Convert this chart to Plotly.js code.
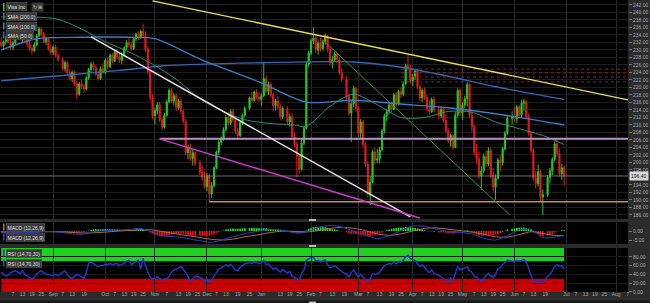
<!DOCTYPE html>
<html><head><meta charset="utf-8">
<script src="https://cdn.plot.ly/plotly-3.0.1.min.js"></script>
<style>html,body{margin:0;padding:0;background:#2b2b2b;}#c{width:650px;height:303px;}</style>
</head><body><div id="c"></div>
<script>
// ---------- DATA ----------
const HOLIDAYS = ['2021-09-06','2021-11-25','2021-12-24','2022-01-17','2022-02-21','2022-04-15','2022-05-30','2022-06-20'];
const START_DAY = '2021-08-02', END_DAY = '2022-06-30';

const open = [
232.0,231.2,232.2,233.0,232.0, 230.8,232.0,233.6,234.2,233.0, 233.5,232.8,231.6,230.4,229.8, 231.4,233.8,235.6,234.2,232.2,
233.0,230.2,229.4,230.8,228.5, 227.4,225.0,226.6,223.8, 222.4,224.0,221.0,218.2,221.0, 220.2,219.6,222.6,224.8,226.2,
225.4,223.6,222.4,225.0,224.0, 227.2,225.6,228.6,227.0,229.4, 228.2,227.2,228.8,230.6,232.0, 231.4,230.4,233.0,234.2,233.4,
235.0,233.8,230.2,224.2,217.4, 212.5,213.8,215.4,211.4,209.4, 212.6,216.2,219.2,216.4,217.8, 214.6,216.4,213.6,211.0,202.6,
203.8,201.0,202.6,199.8, 197.4,196.0,193.6,196.4,191.6, 193.8,198.6,202.8,205.4,206.2, 208.8,212.0,210.6,213.6,211.4,
208.4,207.2,210.6,212.6, 214.4,217.2,216.6,218.8,217.4, 216.8,217.8,222.4,219.0,220.8, 218.0,215.2,216.4,214.8,212.2,
214.4,210.8,212.2,206.8, 205.0,201.6,198.2,205.2,209.2, 226.2,229.2,232.4,233.2,230.0, 231.8,230.4,232.2,233.8,230.2,
226.6,227.4,229.0,227.4,224.0, 222.2,217.6,213.2,215.6, 219.8,214.4,207.8,210.8,204.8, 199.6,191.6,194.8,202.8,200.6,
201.0,203.4,208.4,212.4,213.6, 215.4,214.2,218.0,215.6,219.0, 218.2,221.0,225.8,225.2,221.8, 222.8,224.4,220.2,217.2,219.2,
217.4,214.2,213.6,216.8, 214.0,212.4,214.2,211.2,208.4, 205.8,207.2,204.0,212.6,219.2, 213.2,215.4,217.0,220.8,212.6,
209.6,202.6,201.0,196.4,197.8, 201.6,199.6,203.2,196.6,193.4, 195.8,200.6,200.0,203.6,207.8, 211.8,212.2,211.6,214.8,
212.6,215.8,216.2,212.2,207.8, 203.2,195.8,194.4,197.6,190.8, 191.4,196.0,197.8,200.8, 205.0,202.4,197.0,198.6];
const high = [
233.5,232.6,233.8,234.2,233.0, 232.5,234.0,234.8,235.0,234.0, 234.4,233.2,232.4,231.0,232.0, 234.2,236.2,236.0,234.8,233.6,
233.4,231.5,231.2,231.4,229.2, 228.0,227.2,227.0,225.0, 224.6,224.5,221.8,221.5,222.0, 221.0,223.0,225.2,226.8,227.0,
226.0,224.2,225.6,226.5,227.8, 228.0,229.0,229.2,230.0,230.2, 229.0,229.4,231.0,232.6,233.2, 232.0,233.4,234.6,235.0,235.4,
237.0,235.0,231.0,225.0,218.2, 214.6,216.0,216.2,212.0,213.2, 216.8,219.8,219.8,218.6,218.4, 217.0,217.4,214.2,211.6,204.8,
205.0,203.4,203.0,200.6, 199.0,197.6,197.2,197.0,194.8, 199.0,203.2,206.0,207.0,209.4, 212.6,213.4,214.2,214.4,212.0,
209.2,211.0,213.0,215.0, 217.6,218.8,219.2,219.6,218.6, 218.4,226.5,223.2,221.6,221.4, 218.6,217.0,217.6,215.8,215.0,
215.0,213.0,213.2,208.0, 205.4,202.2,206.0,209.8,227.0, 229.8,233.0,236.0,234.0,232.6, 233.2,232.8,234.4,234.0,231.0,
228.4,229.6,229.6,228.0,225.2, 223.0,218.4,216.4,220.4, 220.2,215.0,211.6,211.4,205.6, 200.4,196.4,203.4,204.0,203.6,
204.2,209.0,213.0,214.2,216.0, 216.2,218.6,218.8,219.4,220.0, 221.6,226.4,228.8,226.0,223.6, 225.0,225.0,220.8,219.8,220.0,
218.0,216.8,217.4,217.6, 215.2,215.0,214.8,213.0,209.2, 207.8,207.6,213.4,219.8,219.8, 216.0,217.8,221.4,221.0,213.8,
210.0,205.0,203.0,199.0,202.4, 203.2,204.0,203.8,198.6,196.8, 201.2,202.0,204.2,208.4,212.4, 213.6,214.6,215.4,215.4,
216.8,217.0,216.6,213.0,208.4, 203.8,197.8,199.4,198.0,192.8, 196.6,198.6,201.4,205.6, 206.4,203.8,199.6,199.2];
const low = [
230.8,230.0,231.5,231.8,230.2, 230.0,231.5,232.8,232.5,231.8, 232.2,230.8,229.6,228.8,229.4, 231.0,233.4,233.6,231.8,231.4,
229.8,228.8,228.6,228.0,226.8, 224.5,224.2,223.2,221.8, 221.5,220.5,217.0,217.8,219.5, 218.5,219.2,222.0,224.0,224.5,
223.0,221.8,222.0,223.5,223.6, 224.8,225.2,226.4,226.8,227.6, 226.6,226.2,228.2,230.0,230.8, 229.6,230.0,232.4,232.6,233.0,
233.2,229.5,223.5,216.5,211.5, 210.2,212.8,210.8,208.6,209.0, 212.2,215.8,215.8,215.2,213.8, 214.0,213.0,210.4,201.8,200.8,
200.4,199.2,199.0,196.6, 195.2,193.0,192.4,189.5,190.6, 193.4,198.2,202.0,204.6,205.8, 208.2,209.8,210.0,210.8,207.6,
206.4,206.8,210.0,212.2, 214.0,216.0,216.2,216.8,216.2, 215.2,217.4,218.4,218.0,217.4, 213.6,213.8,214.2,211.4,211.6,
210.0,209.6,206.0,204.2, 196.0,197.0,197.8,204.6,208.8, 225.4,228.6,231.6,229.2,228.8, 229.6,229.8,231.4,229.4,225.8,
225.0,226.8,226.6,223.4,221.4, 216.8,212.6,205.4,214.8, 213.6,207.0,206.2,204.0,198.8, 190.8,188.7,194.4,199.4,199.8,
199.8,203.0,207.8,211.0,212.8, 213.4,213.8,215.0,215.2,217.2, 217.6,220.6,224.4,221.0,220.4, 222.0,219.6,216.4,216.2,216.6,
213.6,212.8,213.2,213.4, 211.6,211.8,210.6,207.8,205.2, 204.2,203.4,203.8,212.0,212.4, 211.4,214.6,215.0,211.8,208.2,
201.8,199.6,195.6,192.6,197.2, 198.6,199.0,195.8,192.4,190.0, 195.4,197.6,199.2,203.2,207.4, 210.2,210.8,210.6,211.8,
212.0,213.8,211.6,207.2,202.6, 195.0,193.0,193.6,189.4,186.0, 190.8,194.4,196.6,200.2, 201.6,196.2,195.4,193.8];
const close = [
231.2,232.2,233.0,232.0,230.8, 232.0,233.6,234.2,233.0,233.5, 232.8,231.6,230.4,229.8,231.4, 233.8,235.6,234.2,232.2,233.0,
230.2,229.4,230.8,228.5,227.4, 225.0,226.6,223.8,222.4, 224.0,221.0,218.2,221.0,220.2, 219.6,222.6,224.8,226.2,225.4,
223.6,222.4,225.0,224.0,227.2, 225.6,228.6,227.0,229.4,228.2, 227.2,228.8,230.6,232.0,231.4, 230.4,233.0,234.2,233.4,235.0,
233.8,230.2,224.2,217.4,212.5, 213.8,215.4,211.4,209.4,212.6, 216.2,219.2,216.4,217.8,214.6, 216.4,213.6,211.0,202.6,203.8,
201.0,202.6,199.8,197.4, 196.0,193.6,196.4,191.6,193.8, 198.6,202.8,205.4,206.2,208.8, 212.0,210.6,213.6,211.4,208.4,
207.2,210.6,212.6,214.4, 217.2,216.6,218.8,217.4,216.8, 217.8,222.4,219.0,220.8,218.0, 215.2,216.4,214.8,212.2,214.4,
210.8,212.2,206.8,205.0, 201.6,198.2,205.2,209.2,226.2, 229.2,232.4,233.2,230.0,231.8, 230.4,232.2,233.8,230.2,226.6,
227.4,229.0,227.4,224.0,222.2, 217.6,213.2,215.6,219.8, 214.4,207.8,210.8,204.8,199.6, 191.6,194.8,202.8,200.6,201.0,
203.4,208.4,212.4,213.6,215.4, 214.2,218.0,215.6,219.0,218.2, 221.0,225.8,225.2,221.8,222.8, 224.4,220.2,217.2,219.2,217.4,
214.2,213.6,216.8,214.0, 212.4,214.2,211.2,208.4,205.8, 207.2,204.0,212.6,219.2,213.2, 215.4,217.0,220.8,212.6,209.6,
202.6,201.0,196.4,197.8,201.6, 199.6,203.2,196.6,193.4,195.8, 200.6,200.0,203.6,207.8,211.8, 212.2,211.6,214.8,212.6,
215.8,216.2,212.2,207.8,203.2, 195.8,194.4,197.6,190.8,191.4, 196.0,197.8,200.8,205.0, 202.4,197.0,198.6,196.4];

const macdHist = [
-0.5,-0.5,-0.4,-0.4,-0.5, -0.4,-0.3,-0.2,-0.2,-0.1, -0.3,-0.4,-0.5,-0.6,-0.5, -0.3,-0.1,0.1,0.0,-0.1,
-0.3,-0.4,-0.4,-0.5,-0.6, -0.7,-0.8,-0.9,-1.0, -0.9,-1.0,-1.1,-0.9,-0.8, -0.6,-0.3,0.3,0.6,0.9,
1.0,0.9,1.0,1.0,1.1, 1.0,1.0,0.9,0.8,0.7, 0.5,0.4,0.4,0.5,0.5, 0.5,0.6,0.8,0.8,0.9,
0.9,0.6,0.0,-0.8,-1.6, -2.1,-2.4,-2.7,-2.9,-3.0, -2.7,-2.2,-1.9,-1.6,-1.5, -1.4,-1.4,-1.5,-2.0,-2.3,
-2.5,-2.5,-2.6,-2.7, -2.7,-2.7,-2.6,-2.5,-2.3, -1.8,-1.2,-0.7,-0.2,0.3, 0.8,1.0,1.3,1.4,1.3,
1.3,1.4,1.5,1.6, 1.7,1.7,1.7,1.6,1.5, 1.4,1.6,1.5,1.3,1.1, 0.9,0.8,0.6,0.4,0.3,
0.0,-0.3,-0.7,-1.0, -1.3,-1.5,-1.3,-0.9,0.3, 1.1,1.7,2.2,2.2,2.3, 2.2,2.1,2.1,1.7,1.2,
1.0,0.9,0.6,0.2,-0.2, -0.8,-1.3,-1.6,-1.4, -1.6,-2.0,-2.0,-2.2,-2.6, -3.0,-3.0,-2.4,-2.0,-1.7,
-1.3,-0.8,-0.2,0.4,0.9, 1.2,1.5,1.7,1.9,1.9, 2.0,2.2,2.3,2.1,1.9, 1.7,1.4,1.0,0.8,0.5,
0.0,-0.4,-0.4,-0.6, -0.8,-0.7,-0.8,-1.0,-1.2, -1.3,-1.5,-1.0,-0.4,-0.3, 0.0,0.1,0.4,-0.2,-0.6,
-1.2,-1.7,-2.2,-2.6,-2.5, -2.4,-2.1,-2.1,-2.2,-2.1, -1.6,-1.2,-0.6,0.1,0.9, 1.3,1.5,1.8,1.9,
1.9,1.9,1.6,1.1,0.5, -0.6,-1.3,-1.7,-2.4,-2.8, -2.5,-2.1,-1.6,-0.9, -0.3,0.1,0.4,0.4];

const rsi = [
45,40,36,38,44, 46,48,45,42,48, 40,36,32,29,34, 40,46,48,44,40,
40,38,37,40,37, 45,48,40,33, 31,35,40,38,35, 31,45,66,68,64,
62,58,60,60,63, 62,65,62,64,65, 60,63,65,70,72, 62,66,70,72,52,
76,60,45,33,30, 31,35,30,27,29, 30,35,45,50,52, 55,58,52,45,35,
24,30,36,33, 31,25,28,22,27, 36,45,52,54,58, 62,58,63,57,50,
48,56,60,64, 67,65,69,66,64, 66,72,62,64,58, 52,55,50,45,51,
43,47,36,33, 30,27,42,50,72, 75,78,79,70,72, 68,71,73,63,55,
57,60,56,50,46, 40,34,44,50, 42,35,40,34,28, 23,30,42,40,41,
45,53,60,62,65, 63,68,64,69,67, 72,80,84,76,74, 72,64,58,62,56,
48,44,50,42, 38,35,30,24,22, 32,26,45,58,50, 52,54,57,48,45,
36,34,28,24,30, 38,42,36,33,40, 52,55,62,68,72, 70,68,72,70,
72,74,68,52,38, 24,22,28,20,22, 35,40,48,58, 62,58,60,52];

// weekly MACD line / signal
const weekDates = ['2021-08-02','2021-08-06','2021-08-13','2021-08-20','2021-08-27','2021-09-03','2021-09-10','2021-09-17','2021-09-24',
'2021-10-01','2021-10-08','2021-10-15','2021-10-22','2021-10-29','2021-11-05','2021-11-12','2021-11-19','2021-11-26','2021-12-03',
'2021-12-10','2021-12-17','2021-12-23','2021-12-31','2022-01-07','2022-01-14','2022-01-21','2022-01-28','2022-02-04','2022-02-11',
'2022-02-18','2022-02-25','2022-03-04','2022-03-11','2022-03-18','2022-03-25','2022-04-01','2022-04-08','2022-04-14','2022-04-22',
'2022-04-29','2022-05-06','2022-05-13','2022-05-20','2022-05-27','2022-06-03','2022-06-10','2022-06-17','2022-06-24','2022-06-30'];
const macdLine = [-1.1,-1.0,-0.6,-0.8,-0.3,-0.6,-1.4,-1.8,-0.4,0.2,0.6,0.8,1.5,-0.8,-2.8,-3.2,-4.2,-5.4,-6.2,-4.6,-2.8,-1.5,0.0,0.8,0.5,
-1.0,-0.6,2.0,3.0,2.2,0.0,-2.2,-4.2,-2.6,0.2,2.8,2.6,1.4,-0.4,-0.8,-1.6,-4.0,-5.0,-2.6,0.6,1.0,-3.6,-3.4,-2.4];
const macdSignal = [-0.6,-0.6,-0.5,-0.5,-0.4,-0.4,-0.7,-1.1,-1.0,-0.6,-0.1,0.3,0.7,0.6,-0.5,-1.6,-2.6,-3.6,-4.6,-5.0,-4.3,-3.2,-2.0,-0.8,-0.1,
-0.2,-0.5,0.2,1.4,2.0,1.5,0.2,-1.6,-2.4,-1.6,0.0,1.4,1.8,1.0,0.2,-0.6,-1.8,-3.2,-3.4,-2.0,-0.4,-1.4,-2.4,-2.6];

// moving averages
const sma50Dates = ['2021-08-02','2021-08-20','2021-09-03','2021-09-17','2021-10-01','2021-10-15','2021-10-29','2021-11-12','2021-11-26',
'2021-12-10','2021-12-23','2022-01-07','2022-01-21','2022-01-28','2022-02-11','2022-02-25','2022-03-11','2022-03-25','2022-04-08',
'2022-04-22','2022-05-06','2022-05-20','2022-06-03','2022-06-17','2022-06-30'];
const sma50 = [238.8,238.8,238.2,235.6,232.2,229.5,226.2,222.2,217.0,213.6,211.4,210.4,210.0,209.6,215.0,218.2,215.4,212.0,212.0,
213.6,213.4,210.8,209.0,207.2,204.8];
const sma100Dates = ['2021-08-02','2021-08-23','2021-09-17','2021-10-15','2021-11-01','2021-11-29','2021-12-31','2022-01-28','2022-02-25',
'2022-03-25','2022-04-22','2022-05-20','2022-06-30'];
const sma100 = [230.0,233.0,233.4,233.4,233.0,227.3,221.5,216.1,216.6,215.6,214.6,213.0,210.0];
const sma200Dates = ['2021-08-02','2021-09-07','2021-10-15','2021-11-05','2022-01-03','2022-02-25','2022-03-25','2022-04-22','2022-05-20','2022-06-30'];
const sma200 = [221.8,223.2,224.8,225.8,226.6,226.8,225.4,223.0,220.2,216.8];

// drawn trend lines (date, price)
const trendX0 = ['2021-10-29','2021-09-23','2021-11-03','2022-02-08'];
const trendY0 = [243.1, 233.5, 206.3, 232.7];
const trendX1 = ['2022-08-08','2022-03-31','2022-04-06','2022-05-30'];
const trendY1 = [216.7, 185.5, 185.2, 186.0];
// horizontal levels
const levelStart = ['2021-11-03','2021-12-02','2022-03-25','2022-03-25','2022-03-25','2022-03-25'];
const levelPrice = [206.3, 189.5, 224.9, 223.9, 222.8, 221.5];

const AXIS_END = '2022-08-08';
const MONTHS = ['Jan','Feb','Mar','Apr','May','Jun','Jul','Aug','Sep','Oct','Nov','Dec'];
const TICK_DAYS = [7,13,19,25];

// ---------- BUILD ----------
function iso(d){return d.toISOString().slice(0,10);}
function buildDays(){const out=[];let d=new Date(START_DAY+'T00:00:00Z');const e=new Date(END_DAY+'T00:00:00Z');
  while(d<=e){const w=d.getUTCDay();const s=iso(d);if(w!==0&&w!==6&&!HOLIDAYS.includes(s))out.push(s);d=new Date(d.getTime()+86400000);}return out;}
function nextWeekday(s){let d=new Date(s+'T00:00:00Z');while(d.getUTCDay()===0||d.getUTCDay()===6)d=new Date(d.getTime()+86400000);return iso(d);}
function dayDiff(a,b){return (new Date(b+'T00:00:00Z')-new Date(a+'T00:00:00Z'))/86400000;}
const days = buildDays();
const n = Math.min(days.length, open.length, high.length, low.length, close.length);
const X = days.slice(0,n);
const nh = Math.min(days.length, macdHist.length), nr = Math.min(days.length, rsi.length);
const last = close[n-1];

// x ticks: month names at month starts, day numbers between (dropped if too close to a month label)
const monthLines=[]; const dayTicks=[];
for(let y=2021,m=7; y<2022||(y===2022&&m<=7); ){
  const mm=String(m+1).padStart(2,'0');
  const first=`${y}-${mm}-01`;
  if(first>'2021-08-02') monthLines.push({v:nextWeekday(first),t:MONTHS[m]});
  TICK_DAYS.forEach(dd=>{const s=`${y}-${mm}-${String(dd).padStart(2,'0')}`;if(s>'2021-08-02'&&s<AXIS_END) dayTicks.push({v:nextWeekday(s),t:String(dd)});});
  m++; if(m>11){m=0;y++;}
}
const keptDays = dayTicks.filter(d=>monthLines.every(mt=>Math.abs(dayDiff(d.v,mt.v))>=5));
const allTicks = monthLines.concat(keptDays).sort((a,b)=>a.v<b.v?-1:1);
const tickvals = allTicks.map(t=>t.v), ticktext = allTicks.map(t=>t.t);

// price ticks (the one under the last-price box is hidden, as in the picture)
const priceTicks=[];
for(let v=186; v<=242; v+=2){ if(Math.abs(v-last)>1.2) priceTicks.push(v); }

const traces=[];
// SMAs
traces.push({type:'scatter',mode:'lines',x:sma200Dates,y:sma200,line:{color:'#2f68b8',width:1.3,shape:'spline',smoothing:0.8},xaxis:'x',yaxis:'y',hoverinfo:'skip'});
traces.push({type:'scatter',mode:'lines',x:sma100Dates,y:sma100,line:{color:'#3a7cc8',width:1.3,shape:'spline',smoothing:0.8},xaxis:'x',yaxis:'y',hoverinfo:'skip'});
traces.push({type:'scatter',mode:'lines',x:sma50Dates,y:sma50,line:{color:'#2e8a78',width:1,shape:'spline',smoothing:0.8},xaxis:'x',yaxis:'y',hoverinfo:'skip'});
// levels
const levelColors=['#b58fc0','#d08a48','#8a1f1f','#8a1f1f','#8a1f1f','#8a1f1f'];
const levelWidth=[2,1.5,1,1,1,1];
const levelDash=['solid','solid','dot','dot','dot','dot'];
levelPrice.forEach((p,i)=>traces.push({type:'scatter',mode:'lines',x:[levelStart[i],AXIS_END],y:[p,p],
  line:{color:levelColors[i],width:levelWidth[i],dash:levelDash[i]},xaxis:'x',yaxis:'y',hoverinfo:'skip'}));
// current price line
traces.push({type:'scatter',mode:'lines',x:['2021-07-30',AXIS_END],y:[last,last],line:{color:'#8a8a8a',width:0.8},xaxis:'x',yaxis:'y',hoverinfo:'skip'});
// candles
traces.push({type:'candlestick',x:X,open:open.slice(0,n),high:high.slice(0,n),low:low.slice(0,n),close:close.slice(0,n),
  increasing:{line:{color:'#27c627',width:1},fillcolor:'#27c627'},decreasing:{line:{color:'#e01a1a',width:1},fillcolor:'#e01a1a'},
  whiskerwidth:0,xaxis:'x',yaxis:'y',hoverinfo:'skip'});
// trend lines
const trendColors=['#e6e04a','#e8e8e8','#d23ad2','#3f8f2a'];
const trendWidth=[1.4,1.4,1.4,1];
trendX0.forEach((x0,i)=>traces.push({type:'scatter',mode:'lines',x:[x0,trendX1[i]],y:[trendY0[i],trendY1[i]],
  line:{color:trendColors[i],width:trendWidth[i]},xaxis:'x',yaxis:'y',hoverinfo:'skip'}));
// MACD
traces.push({type:'bar',x:days.slice(0,nh),y:macdHist.slice(0,nh),marker:{color:macdHist.slice(0,nh).map(v=>v>=0?'#2ed02e':'#e01414'),line:{width:0}},xaxis:'x',yaxis:'y2',hoverinfo:'skip'});
traces.push({type:'scatter',mode:'lines',x:weekDates,y:macdSignal,line:{color:'#b86a4a',width:1,shape:'spline',smoothing:0.8},xaxis:'x',yaxis:'y2',hoverinfo:'skip'});
traces.push({type:'scatter',mode:'lines',x:weekDates,y:macdLine,line:{color:'#2d3cc4',width:1,shape:'spline',smoothing:0.8},xaxis:'x',yaxis:'y2',hoverinfo:'skip'});
// RSI
traces.push({type:'scatter',mode:'lines',x:days.slice(0,nr),y:rsi.slice(0,nr),line:{color:'#2238d6',width:1.4},xaxis:'x',yaxis:'y3',hoverinfo:'skip'});

const W=628,H=292;
const px=v=>v/W, py=v=>(H-v)/H;
function lab(x,y,text){return {xref:'paper',yref:'paper',x:px(x),y:py(y),xanchor:'left',yanchor:'middle',text:text,showarrow:false,
  font:{size:5,color:'#e0e0e0',family:'Liberation Sans, Arial, sans-serif'},bgcolor:'#3a3a3a',bordercolor:'#555',borderwidth:0.5,borderpad:1};}
const annotations=[
  lab(6,7,'Visa Inc'), lab(6,16,'SMA (200.0)'), lab(6,26,'SMA (100.0)'), lab(6,35,'SMA (50.0)'),
  lab(6,227,'MACD (12,26,9)'), lab(6,237,'MACD (12,26,9)'),
  lab(6,253,'RSI (14,70,30)'), lab(6,263,'RSI (14,70,30)'),
  {xref:'paper',yref:'paper',x:px(31),y:py(7),xanchor:'left',yanchor:'middle',text:'↻ ⊞',showarrow:false,font:{size:5,color:'#ccc'},bgcolor:'#3a3a3a',borderpad:1},
  {xref:'paper',yref:'y',x:1.002,y:last,xanchor:'left',yanchor:'middle',text:last.toFixed(2),showarrow:false,font:{size:5,color:'#111'},bgcolor:'#d8d8d8',borderpad:1}
];
function bar(y0,y1,c){return {type:'rect',xref:'paper',yref:'paper',x0:px(3),x1:px(4.6),y0:py(y1),y1:py(y0),fillcolor:c,line:{width:0},layer:'above'};}
const shapes=[
  {type:'rect',xref:'x',yref:'y3',x0:X[0],x1:X[n-1],y0:70,y1:100,fillcolor:'#1fd01f',line:{width:0},layer:'below'},
  {type:'rect',xref:'x',yref:'y3',x0:X[0],x1:X[n-1],y0:0,y1:30,fillcolor:'#c80000',line:{width:0},layer:'below'},
  bar(3,11,'#2ec02e'), bar(12.5,19.5,'#2e8a78'), bar(22.5,29.5,'#3a7cc8'), bar(31.5,38.5,'#2f68b8'),
  bar(223.5,230.5,'#b86a4a'), bar(233.5,240.5,'#2d3cc4'), bar(249.5,256.5,'#2238d6'), bar(259.5,266.5,'#2238d6'),
  {type:'rect',xref:'paper',yref:'paper',x0:-0.01,x1:1.04,y0:py(304),y1:py(300.5),fillcolor:'#181818',line:{width:0}},
  {type:'rect',xref:'paper',yref:'paper',x0:px(309),x1:px(316),y0:py(221),y1:py(219),fillcolor:'#bbbbbb',line:{width:0}},
  {type:'rect',xref:'paper',yref:'paper',x0:px(309),x1:px(316),y0:py(247),y1:py(245),fillcolor:'#bbbbbb',line:{width:0}},
  {type:'rect',xref:'paper',yref:'paper',x0:px(309),x1:px(316),y0:py(303),y1:py(301.5),fillcolor:'#bbbbbb',line:{width:0}}
];

const axFont={size:5,color:'#a8a8a8',family:'Liberation Sans, Arial, sans-serif'};
const layout={
  width:650,height:303,margin:{l:0,r:22,t:0,b:11,pad:0},
  paper_bgcolor:'#2b2b2b',plot_bgcolor:'#000000',showlegend:false,bargap:0.25,
  font:{family:'Liberation Sans, Arial, sans-serif',size:5,color:'#aaa'},
  xaxis:{type:'date',range:['2021-07-30 12:00',AXIS_END],rangebreaks:[{bounds:['sat','mon']}],rangeslider:{visible:false},
    anchor:'y3',showgrid:false,zeroline:false,showline:false,tickmode:'array',tickvals:tickvals,ticktext:ticktext,tickfont:axFont,ticks:'',
    tickangle:0,ticklabelstandoff:-2,
    minor:{tickmode:'array',tickvals:monthLines.map(m=>m.v),showgrid:true,gridcolor:'#2a2a2a',gridwidth:1,ticks:''},fixedrange:true},
  yaxis:{domain:[0.25,1],anchor:'x',side:'right',range:[184.93,243.33],tickmode:'array',tickvals:priceTicks,tickformat:'.2f',showgrid:true,gridcolor:'#1d1d1d',
    zeroline:false,ticks:'outside',ticklen:3,tickcolor:'#777',tickfont:axFont,fixedrange:true},
  yaxis2:{domain:[0.1644,0.2397],anchor:'x',side:'right',range:[-7.2,5],tickmode:'array',tickvals:[-5,0],ticktext:['-5.00','0.00'],
    showgrid:false,zeroline:false,ticks:'outside',ticklen:3,tickcolor:'#777',tickfont:axFont,fixedrange:true},
  yaxis3:{domain:[0,0.1507],anchor:'x',side:'right',range:[0,100],tickmode:'array',tickvals:[0,20,40,60,80],tickformat:'.2f',
    showgrid:true,gridcolor:'#1a1a1a',zeroline:false,ticks:'outside',ticklen:3,tickcolor:'#777',tickfont:axFont,fixedrange:true},
  annotations:annotations,shapes:shapes
};
Plotly.newPlot('c',traces,layout,{staticPlot:true,displayModeBar:false});
</script></body></html>
